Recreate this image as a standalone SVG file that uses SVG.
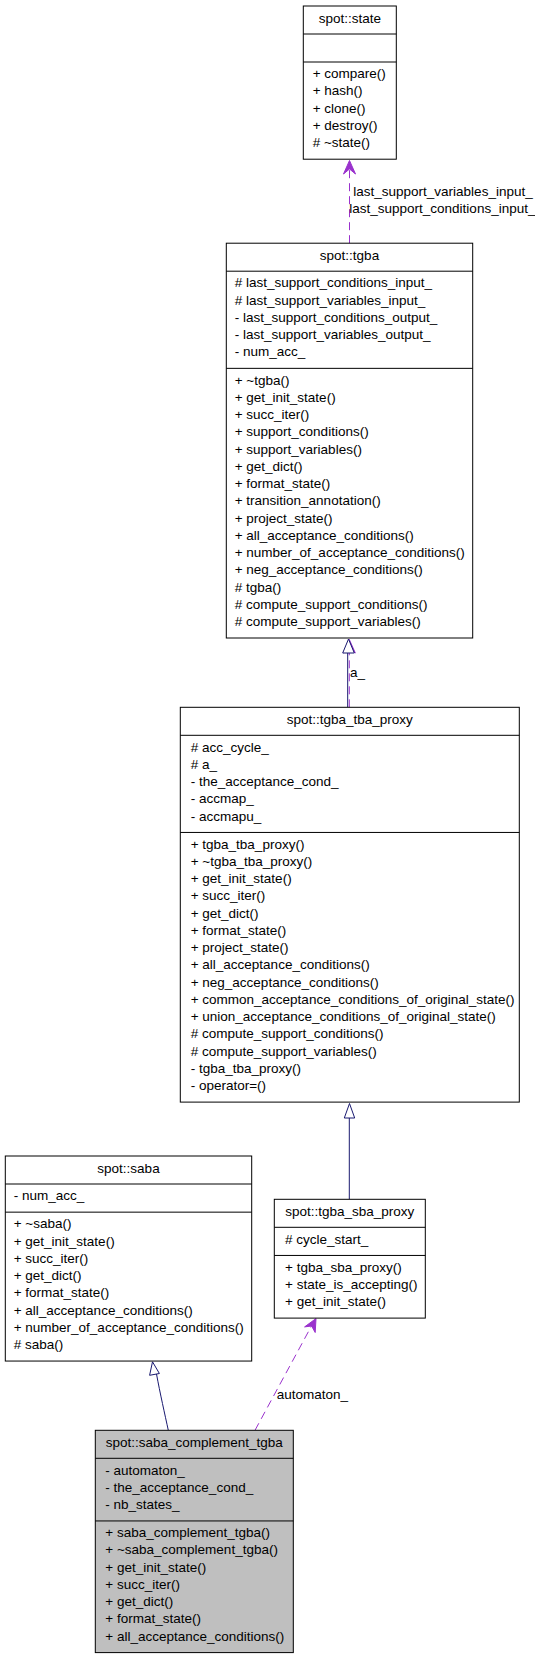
<svg xmlns="http://www.w3.org/2000/svg" width="535" height="1659" viewBox="0 0 535 1659">
<style>
text{font-family:"Liberation Sans",Arial,sans-serif;font-size:13.5px;fill:#000}
.t{text-anchor:middle}
.box{fill:#fff;stroke:#000;stroke-width:1}
.cur{fill:#bfbfbf;stroke:#000;stroke-width:1}
.sep{stroke:#000;stroke-width:1}
.inh{fill:none;stroke:#191970;stroke-width:1}
.tri{fill:#fff;stroke:#191970;stroke-width:1}
.use{fill:none;stroke:#9a32cd;stroke-width:1;stroke-dasharray:8,5}
.vee{fill:#9a32cd;stroke:#9a32cd;stroke-width:1}
</style>
<rect width="535" height="1659" fill="#fff"/>
<g id="connectors">
<path class="use" d="M349.5,243.2 V163"/>
<polygon class="vee" points="349.5,160.5 343.5,174 349.5,169 355.5,174"/>
<text x="353.3" y="196">last_support_variables_input_</text>
<text x="349.3" y="213">last_support_conditions_input_</text>
<path class="inh" d="M347.7,707.3 V653"/>
<path class="use" d="M349.3,707.3 V642"/>
<polygon class="vee" points="349.3,639.5 343.3,653 349.3,648 355.3,653"/>
<polygon class="tri" points="348.5,639 342.7,653 354.3,653"/>
<text x="350" y="677">a_</text>
<path class="inh" d="M349.3,1199.3 V1118"/>
<polygon class="tri" points="349.5,1103.5 344.3,1118 354.7,1118"/>
<path class="inh" d="M168.3,1430.3 C165,1415 160,1393 156.5,1374"/>
<polygon class="tri" points="152.5,1361.8 149.6,1375.3 159.4,1373.5"/>
<path class="use" d="M255,1430.3 L312,1325"/>
<polygon class="vee" points="316,1318.5 304.6,1326.9 311.6,1326 315.2,1332.5"/>
<text x="276.7" y="1399">automaton_</text>
</g>
<g id="state">
<rect class="box" x="303.3" y="6" width="93" height="153.2"/>
<line class="sep" x1="303.3" y1="34" x2="396.3" y2="34"/>
<line class="sep" x1="303.3" y1="62" x2="396.3" y2="62"/>
<text class="t" x="349.8" y="22.5">spot::state</text>
<text x="312.7" y="78.2">+ compare()</text>
<text x="312.7" y="95.45">+ hash()</text>
<text x="312.7" y="112.7">+ clone()</text>
<text x="312.7" y="129.95">+ destroy()</text>
<text x="312.7" y="147.2"># ~state()</text>
</g>
<g id="tgba">
<rect class="box" x="226.3" y="243.2" width="246.4" height="394.8"/>
<line class="sep" x1="226.3" y1="271.2" x2="472.7" y2="271.2"/>
<line class="sep" x1="226.3" y1="368.35" x2="472.7" y2="368.35"/>
<text class="t" x="349.5" y="259.7">spot::tgba</text>
<text x="234.7" y="287.4"># last_support_conditions_input_</text>
<text x="234.7" y="304.65"># last_support_variables_input_</text>
<text x="234.7" y="321.9">- last_support_conditions_output_</text>
<text x="234.7" y="339.15">- last_support_variables_output_</text>
<text x="234.7" y="356.4">- num_acc_</text>
<text x="234.7" y="384.55">+ ~tgba()</text>
<text x="234.7" y="401.8">+ get_init_state()</text>
<text x="234.7" y="419.05">+ succ_iter()</text>
<text x="234.7" y="436.3">+ support_conditions()</text>
<text x="234.7" y="453.55">+ support_variables()</text>
<text x="234.7" y="470.8">+ get_dict()</text>
<text x="234.7" y="488.05">+ format_state()</text>
<text x="234.7" y="505.3">+ transition_annotation()</text>
<text x="234.7" y="522.55">+ project_state()</text>
<text x="234.7" y="539.8">+ all_acceptance_conditions()</text>
<text x="234.7" y="557.05">+ number_of_acceptance_conditions()</text>
<text x="234.7" y="574.3">+ neg_acceptance_conditions()</text>
<text x="234.7" y="591.55"># tgba()</text>
<text x="234.7" y="608.8"># compute_support_conditions()</text>
<text x="234.7" y="626.05"># compute_support_variables()</text>
</g>
<g id="tgba_tba_proxy">
<rect class="box" x="180.3" y="707.3" width="339" height="394.8"/>
<line class="sep" x1="180.3" y1="735.3" x2="519.3" y2="735.3"/>
<line class="sep" x1="180.3" y1="832.45" x2="519.3" y2="832.45"/>
<text class="t" x="349.8" y="723.8">spot::tgba_tba_proxy</text>
<text x="190.7" y="751.5"># acc_cycle_</text>
<text x="190.7" y="768.75"># a_</text>
<text x="190.7" y="786">- the_acceptance_cond_</text>
<text x="190.7" y="803.25">- accmap_</text>
<text x="190.7" y="820.5">- accmapu_</text>
<text x="190.7" y="848.65">+ tgba_tba_proxy()</text>
<text x="190.7" y="865.9">+ ~tgba_tba_proxy()</text>
<text x="190.7" y="883.15">+ get_init_state()</text>
<text x="190.7" y="900.4">+ succ_iter()</text>
<text x="190.7" y="917.65">+ get_dict()</text>
<text x="190.7" y="934.9">+ format_state()</text>
<text x="190.7" y="952.15">+ project_state()</text>
<text x="190.7" y="969.4">+ all_acceptance_conditions()</text>
<text x="190.7" y="986.65">+ neg_acceptance_conditions()</text>
<text x="190.7" y="1003.9">+ common_acceptance_conditions_of_original_state()</text>
<text x="190.7" y="1021.15">+ union_acceptance_conditions_of_original_state()</text>
<text x="190.7" y="1038.4"># compute_support_conditions()</text>
<text x="190.7" y="1055.65"># compute_support_variables()</text>
<text x="190.7" y="1072.9">- tgba_tba_proxy()</text>
<text x="190.7" y="1090.15">- operator=()</text>
</g>
<g id="saba">
<rect class="box" x="5.3" y="1156" width="246.4" height="205.05"/>
<line class="sep" x1="5.3" y1="1184" x2="251.7" y2="1184"/>
<line class="sep" x1="5.3" y1="1212.15" x2="251.7" y2="1212.15"/>
<text class="t" x="128.5" y="1172.5">spot::saba</text>
<text x="13.7" y="1200.2">- num_acc_</text>
<text x="13.7" y="1228.35">+ ~saba()</text>
<text x="13.7" y="1245.6">+ get_init_state()</text>
<text x="13.7" y="1262.85">+ succ_iter()</text>
<text x="13.7" y="1280.1">+ get_dict()</text>
<text x="13.7" y="1297.35">+ format_state()</text>
<text x="13.7" y="1314.6">+ all_acceptance_conditions()</text>
<text x="13.7" y="1331.85">+ number_of_acceptance_conditions()</text>
<text x="13.7" y="1349.1"># saba()</text>
</g>
<g id="tgba_sba_proxy">
<rect class="box" x="274.3" y="1199.3" width="151" height="118.8"/>
<line class="sep" x1="274.3" y1="1227.3" x2="425.3" y2="1227.3"/>
<line class="sep" x1="274.3" y1="1255.45" x2="425.3" y2="1255.45"/>
<text class="t" x="349.8" y="1215.8">spot::tgba_sba_proxy</text>
<text x="285" y="1243.5"># cycle_start_</text>
<text x="285" y="1271.65">+ tgba_sba_proxy()</text>
<text x="285" y="1288.9">+ state_is_accepting()</text>
<text x="285" y="1306.15">+ get_init_state()</text>
</g>
<g id="saba_complement_tgba">
<rect class="cur" x="95.3" y="1430.3" width="198" height="222.3"/>
<line class="sep" x1="95.3" y1="1458.3" x2="293.3" y2="1458.3"/>
<line class="sep" x1="95.3" y1="1520.95" x2="293.3" y2="1520.95"/>
<text class="t" x="194.3" y="1446.8">spot::saba_complement_tgba</text>
<text x="105.3" y="1474.5">- automaton_</text>
<text x="105.3" y="1491.75">- the_acceptance_cond_</text>
<text x="105.3" y="1509">- nb_states_</text>
<text x="105.3" y="1537.15">+ saba_complement_tgba()</text>
<text x="105.3" y="1554.4">+ ~saba_complement_tgba()</text>
<text x="105.3" y="1571.65">+ get_init_state()</text>
<text x="105.3" y="1588.9">+ succ_iter()</text>
<text x="105.3" y="1606.15">+ get_dict()</text>
<text x="105.3" y="1623.4">+ format_state()</text>
<text x="105.3" y="1640.65">+ all_acceptance_conditions()</text>
</g>
</svg>
